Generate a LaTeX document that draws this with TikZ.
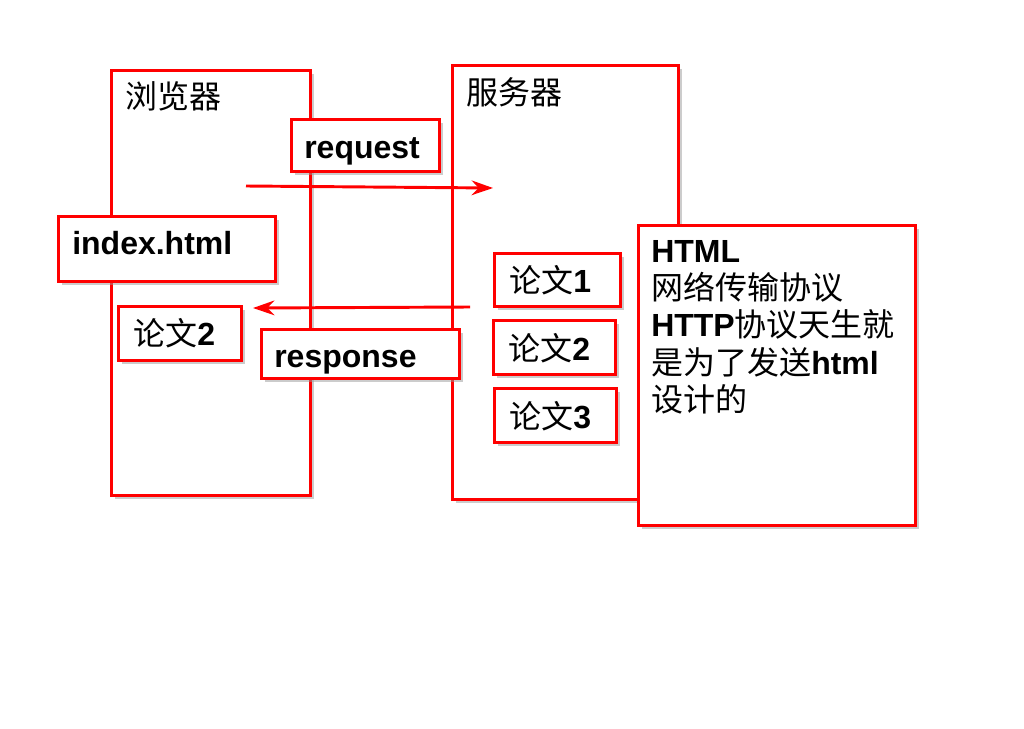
\documentclass[tikz,border=0pt]{standalone}
\usepackage{fontspec}
\setmainfont{Liberation Sans}
\newfontfamily\cjk{Noto Sans CJK SC}
\usetikzlibrary{shadows,arrows.meta}
\tikzset{
  box/.style={draw=red, line width=2pt, fill=white, inner sep=0pt,
    drop shadow={shadow xshift=2.5pt, shadow yshift=-2.5pt, fill=black!40}},
  txt/.style={anchor=base west, inner sep=0pt, font=\fontsize{24pt}{28pt}\selectfont},
  arr/.style={draw=red, line width=2.2pt, -{Stealth[length=16pt,width=11pt]}},
}
\newcommand{\boxat}[5]{\node[box, anchor=north west, minimum width=#3*0.75pt-#1*0.75pt, minimum height=#4*0.75pt-#2*0.75pt] (#5) at (#1,#2) {};}
\begin{document}
\begin{tikzpicture}[x=0.75pt,y=-0.75pt]
\useasboundingbox (0,0) rectangle (1024,728);
% large boxes
\boxat{110}{69}{309}{494}{browser}
\boxat{451}{64}{677}{498}{server}
\node[txt] (tbrowser) at (125,108) {\cjk 浏览器};
\node[txt] (tserver) at (466,104) {\cjk 服务器};
% arrows
\coordinate (reqs) at (246,186);
\coordinate (reqe) at (493,188);
\coordinate (ress) at (470,307);
\coordinate (rese) at (253,308);
\draw[arr] (reqs) -- (reqe);
\draw[arr] (ress) -- (rese);
% small boxes
\boxat{290}{118}{438}{170}{request}
\node[txt] (trequest) at (304,158) {\textbf{request}};
\boxat{57}{215}{274}{280}{index}
\node[txt] (tindex) at (72,254) {\textbf{index.html}};
\boxat{117}{305}{240}{359}{lw2l}
\node[txt] (tlw2l) at (133,345) {{\cjk 论文}\textbf{2}};
\boxat{260}{328}{458}{377}{response}
\node[txt] (tresponse) at (274,367) {\textbf{response}};
\boxat{493}{252}{619}{305}{lw1}
\node[txt] (tlw1) at (509,292) {{\cjk 论文}\textbf{1}};
\boxat{492}{319}{614}{373}{lw2}
\node[txt] (tlw2) at (508,360) {{\cjk 论文}\textbf{2}};
\boxat{493}{387}{615}{441}{lw3}
\node[txt] (tlw3) at (509,428) {{\cjk 论文}\textbf{3}};
% note box
\boxat{637}{224}{914}{524}{note}
\node[txt, align=left, anchor=north west] (tnote) at (651,240) {%
\textbf{HTML}\\
{\cjk 网络传输协议}\\
\textbf{HTTP}{\cjk 协议天生就}\\
{\cjk 是为了发送}\textbf{html}\\
{\cjk 设计的}};
\end{tikzpicture}
\end{document}
